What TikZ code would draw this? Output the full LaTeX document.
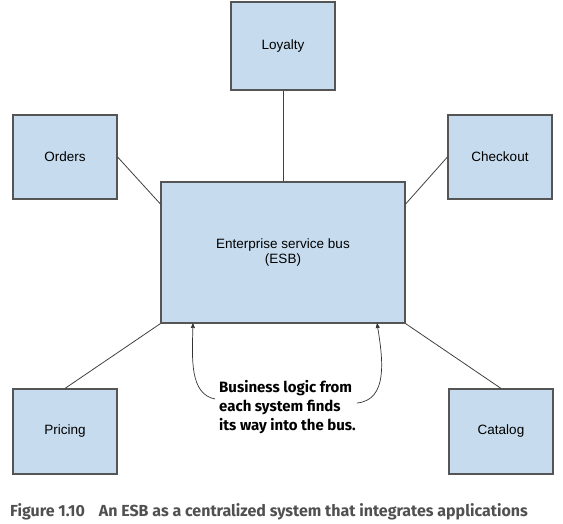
\documentclass[tikz,border=0pt]{standalone}
\usepackage{fontspec}
\setmainfont{Liberation Sans}
\newfontfamily\notefont{Fira Sans}
\usetikzlibrary{arrows.meta}
\definecolor{boxfill}{HTML}{C6DCEE}
\definecolor{boxline}{HTML}{555555}
\definecolor{captiongray}{HTML}{505050}
\begin{document}
\begin{tikzpicture}[x=1pt,y=-1pt,
  sysbox/.style={draw=boxline,line width=1.2pt,fill=boxfill,inner sep=0pt,
    font=\fontsize{13.5}{16}\selectfont},
  link/.style={draw=black!75,line width=0.8pt},
  callout/.style={draw=black!80,line width=0.7pt,-{Triangle[length=5pt,width=4pt]}}]
\useasboundingbox (0,0) rectangle (563,523);
\node[sysbox,minimum width=104pt,minimum height=88pt] (loyalty) at (283,46) {Loyalty};
\node[sysbox,minimum width=104pt,minimum height=84pt] (orders) at (65,157) {Orders};
\node[sysbox,minimum width=104pt,minimum height=84pt] (checkout) at (500,157) {Checkout};
\node[sysbox,minimum width=244pt,minimum height=141pt,align=center] (esb) at (283,252.5) {Enterprise service bus\\(ESB)};
\node[sysbox,minimum width=104pt,minimum height=85pt] (pricing) at (65,431.5) {Pricing};
\node[sysbox,minimum width=104pt,minimum height=85pt] (catalog) at (501,431.5) {Catalog};
\draw[link] (loyalty.south) -- (esb.north);
\draw[link] (orders.east) -- (esb.west |- 0,204);
\draw[link] (checkout.west) -- (esb.east |- 0,204);
\draw[link] (esb.south west) -- (pricing.north);
\draw[link] (esb.south east) -- (catalog.north);
\node[anchor=north west,align=left,inner sep=0pt,
  font=\notefont\bfseries\fontsize{15}{19}\selectfont] (note) at (219,380)
  {Business logic from\\each system finds\\its way into the bus.};
\coordinate (lt) at (193,323);
\coordinate (rt) at (377,323);
\coordinate (ls) at (215,399);
\coordinate (rs) at (357,403);
\draw[callout] (ls) .. controls (190,394) and (192,360) .. (lt);
\draw[callout] (rs) .. controls (388,400) and (383,360) .. (rt);
\node[anchor=base west,inner sep=0pt,text=captiongray,
  font=\notefont\bfseries\fontsize{16}{18}\selectfont] (caption) at (10,516)
  {Figure 1.10\hspace{14pt}An ESB as a centralized system that integrates applications};
\end{tikzpicture}
\end{document}
